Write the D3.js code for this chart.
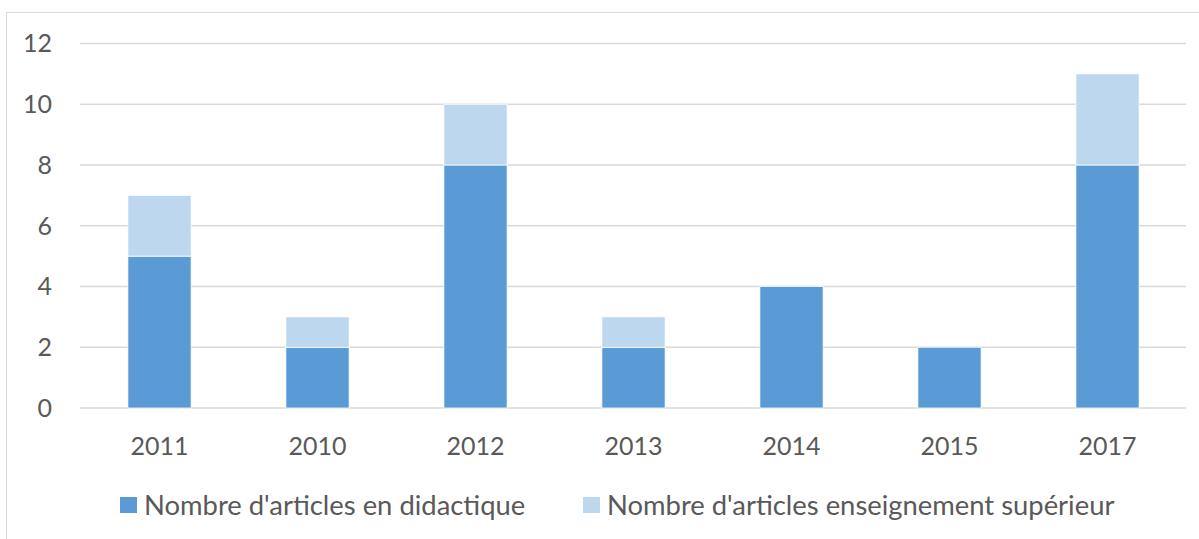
<!DOCTYPE html>
<html>
<head>
<meta charset="utf-8">
<script src="https://cdn.jsdelivr.net/npm/d3@7"></script>
<style>
  body { margin: 0; background: #fff; }
  svg text { font-family: Lato, "Open Sans", sans-serif; fill: #595959; }
</style>
</head>
<body>
<div id="main"></div>
<script>
var years = ["2011", "2010", "2012", "2013", "2014", "2015", "2017"];
var didactique = [5, 2, 8, 2, 4, 2, 8];
var superieur = [2, 1, 2, 1, 0, 0, 3];
var seriesNames = ["Nombre d'articles en didactique", "Nombre d'articles enseignement supérieur"];
var seriesColors = ["#5b9bd5", "#bdd7ee"];
var yTicks = [0, 2, 4, 6, 8, 10, 12];

var ctx = { w: 1199, h: 539 };

var svg = d3.select("#main").append("svg")
    .attr("width", ctx.w)
    .attr("height", ctx.h);

// chart area border
svg.append("rect")
    .attr("x", 6.5).attr("y", 12.5)
    .attr("width", 1210).attr("height", 540)
    .attr("fill", "none")
    .attr("stroke", "#d9d9d9")
    .attr("stroke-width", 1);

var x = d3.scaleBand().domain(years).range([80.5, 1186.5]).paddingInner(0.6).paddingOuter(0.3);
var y = d3.scaleLinear().domain([0, 12]).range([408, 43.5]);

// gridlines
svg.append("g").selectAll("line")
    .data(yTicks)
    .enter().append("line")
    .attr("x1", 80).attr("x2", 1186)
    .attr("y1", function(d){ return y(d); })
    .attr("y2", function(d){ return y(d); })
    .attr("stroke", "#d9d9d9")
    .attr("stroke-width", 1.3);

// y labels
svg.append("g").selectAll("text")
    .data(yTicks)
    .enter().append("text")
    .attr("x", 52)
    .attr("y", function(d){ return y(d); })
    .attr("dy", "0.35em")
    .attr("text-anchor", "end")
    .style("font-size", "25px")
    .text(function(d){ return d; });

// stacked bars
var rows = years.map(function(yr, i){ return {year: yr, a: didactique[i], b: superieur[i]}; });
var stack = d3.stack().keys(["a", "b"])(rows);

svg.append("g").selectAll("g")
    .data(stack)
    .enter().append("g")
    .attr("fill", function(d, i){ return seriesColors[i]; })
    .selectAll("rect")
    .data(function(d){ return d; })
    .enter().append("rect")
    .filter(function(d){ return d[1] - d[0] > 0; })
    .attr("x", function(d){ return x(d.data.year); })
    .attr("width", x.bandwidth())
    .attr("y", function(d){ return y(d[1]); })
    .attr("height", function(d){ return y(d[0]) - y(d[1]); })
    .attr("stroke", "#fff")
    .attr("stroke-width", 0.75);

// x labels
svg.append("g").selectAll("text")
    .data(years)
    .enter().append("text")
    .attr("x", function(d){ return x(d) + x.bandwidth() / 2; })
    .attr("y", 455)
    .attr("text-anchor", "middle")
    .style("font-size", "25px")
    .text(function(d){ return d; });

// legend
var legendX = [120, 583];
var leg = svg.append("g").selectAll("g")
    .data(seriesNames)
    .enter().append("g")
    .attr("transform", function(d, i){ return "translate(" + legendX[i] + ",497)"; });
leg.append("rect")
    .attr("width", 17).attr("height", 16)
    .attr("fill", function(d, i){ return seriesColors[i]; });
leg.append("text")
    .attr("x", 24)
    .attr("y", 8)
    .attr("dy", "0.36em")
    .style("font-size", "27.4px")
    .text(function(d){ return d; });
</script>
</body>
</html>
